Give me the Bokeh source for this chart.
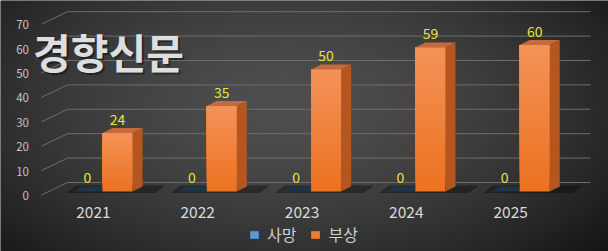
import numpy as np
from bokeh.plotting import figure
from bokeh.models import Range1d, Legend, LegendItem, Label
from bokeh.core.properties import value
from bokeh.embed import file_html
from bokeh.resources import INLINE

# ---------------- data ----------------
years = ["2021", "2022", "2023", "2024", "2025"]
series_names = ["사망", "부상"]
deaths = [0, 0, 0, 0, 0]
injuries = [24, 35, 50, 59, 60]
y_ticks = [0, 10, 20, 30, 40, 50, 60, 70]
watermark = "경향신문"

# ---------------- layout / style constants ----------------
W_PX, H_PX = 608, 251
X_UNIT = 104.3          # px per category
Y_UNIT = 2.44           # px per value unit
X0_PX, Y0_PX = 102, 191  # pixel of (x=0, v=0)
BW = 0.288              # bar width (categories)
DX, DY = 0.096, 2.05    # 3D depth offset
WALL_DY = 3.69          # back wall offset in value units
FRONT_DY = -1.43
WALL_X0, WALL_X1, DIAG_X0 = -0.336, 4.679, -0.585
FONT = "Noto Sans CJK KR"

p = figure(width=W_PX, height=H_PX, output_backend="svg", toolbar_location=None,
           x_axis_type=None, y_axis_type=None, min_border=0,
           x_range=Range1d(-X0_PX / X_UNIT, (W_PX - X0_PX) / X_UNIT),
           y_range=Range1d(-(H_PX - Y0_PX) / Y_UNIT, Y0_PX / Y_UNIT))
p.outline_line_color = None
p.grid.visible = False
p.background_fill_color = "#333333"
p.border_fill_color = "#333333"

# background radial gradient
gh, gw = 120, 240
yy, xx = np.mgrid[0:gh, 0:gw]
xn = xx / (gw - 1)
yn = 1 - yy / (gh - 1)
r = np.sqrt(((xn - 0.47) / 0.62) ** 2 + ((yn - 0.42) / 0.8) ** 2)
r = np.clip(r, 0, 1.2)
val = (78 - 48 * r ** 1.6).clip(20, 90).astype(np.uint8)
img = np.empty((gh, gw), dtype=np.uint32)
view = img.view(dtype=np.uint8).reshape((gh, gw, 4))
view[:, :, 0] = val
view[:, :, 1] = val
view[:, :, 2] = val
view[:, :, 3] = 255
xr, yr = p.x_range, p.y_range
p.image_rgba(image=[img], x=xr.start, y=yr.start, dw=xr.end - xr.start, dh=yr.end - yr.start)

# back wall grid lines with diagonal to front labels
gx = [[DIAG_X0, WALL_X0, WALL_X1] for t in y_ticks]
gy = [[t + FRONT_DY, t + WALL_DY, t + WALL_DY] for t in y_ticks]
p.multi_line(xs=gx, ys=gy, line_color="#6e6e6e", line_width=1)

# y tick labels
p.text(x=[-0.705] * len(y_ticks), y=[t - 1.64 for t in y_ticks], text=[str(t) for t in y_ticks],
       text_align="right", text_baseline="middle", text_font=value(FONT),
       text_font_size="11.5px", text_color="#c4c4c4")

idx = np.arange(len(years))

# floor shadows
sh_xs, sh_ys = [], []
for i in idx:
    sh_xs.append([i - BW - 0.06, i + BW + 0.22, i + BW + 0.22 + DX, i - BW - 0.06 + DX])
    sh_ys.append([-0.6, -0.6, DY + 0.4, DY + 0.4])
p.patches(xs=sh_xs, ys=sh_ys, fill_color="#000000", fill_alpha=0.35, line_color=None)

# 사망 bars (zero height -> flat top face)
b_xs, b_ys = [], []
for i, v in zip(idx, deaths):
    b_xs.append([i - BW, i, i + DX, i - BW + DX])
    b_ys.append([v, v, v + DY, v + DY])
p.patches(xs=b_xs, ys=b_ys, fill_color="#1e3447", line_color=None)

# 부상 bars: front face gradient (stacked overlapping layers, bottom to top)
N = 16
c_bot = np.array([236, 114, 32])
c_top = np.array([244, 146, 88])
ql, qr, qb, qt, qc = [], [], [], [], []
for k in range(N):
    f0 = k / N
    c = (c_bot + (c_top - c_bot) * (k + 0.5) / N).astype(int)
    for i, v in zip(idx, injuries):
        ql.append(i)
        qr.append(i + BW)
        qb.append(v * f0)
        qt.append(v)
        qc.append("#%02x%02x%02x" % tuple(c))
p.quad(left=ql, right=qr, bottom=qb, top=qt, fill_color=qc, line_color=None)

# side and top faces
s_xs, s_ys, t_xs, t_ys = [], [], [], []
for i, v in zip(idx, injuries):
    s_xs.append([i + BW, i + BW + DX, i + BW + DX, i + BW])
    s_ys.append([0, DY, v + DY, v])
    t_xs.append([i, i + DX, i + BW + DX, i + BW])
    t_ys.append([v, v + DY, v + DY, v])
p.patches(xs=s_xs, ys=s_ys, fill_color="#b4561d", line_color=None)
p.patches(xs=t_xs, ys=t_ys, fill_color="#c46a3c", line_color=None)

# value labels
p.text(x=list(idx - BW / 2), y=[v + 5.6 for v in deaths], text=[str(v) for v in deaths],
       text_align="center", text_baseline="middle", text_font=value(FONT),
       text_font_size="14px", text_color="#e6e63a")
p.text(x=list(idx + BW / 2), y=[v + 5.6 for v in injuries], text=[str(v) for v in injuries],
       text_align="center", text_baseline="middle", text_font=value(FONT),
       text_font_size="14px", text_color="#e6e63a")

# category labels
p.text(x=list(idx - 0.087), y=[-8.6] * len(years), text=years,
       text_align="center", text_baseline="middle", text_font=value(FONT),
       text_font_size="15.5px", text_color="#dadada")

# legend (proxy renderers whose single point is NaN, so they draw nothing on the plot)
nan = float("nan")
r1 = p.quad(left=[nan], right=[nan], bottom=[nan], top=[nan], fill_color="#5b9bd5", line_color="#4a8ac4")
r2 = p.quad(left=[nan], right=[nan], bottom=[nan], top=[nan], fill_color="#f07d2e", line_color="#e06d20")
legend = Legend(items=[LegendItem(label=series_names[0], renderers=[r1]),
                       LegendItem(label=series_names[1], renderers=[r2])],
                orientation="horizontal", location=(249, 5),
                background_fill_alpha=0, border_line_alpha=0, padding=0, margin=0,
                glyph_width=10, glyph_height=9, label_standoff=8, spacing=14,
                label_text_font=FONT, label_text_font_size="16px",
                label_text_color="#d0d0d0")
p.add_layout(legend)

# watermark
p.add_layout(Label(x=110, y=199, x_units="screen", y_units="screen", text=watermark,
                   text_align="center", text_baseline="middle", text_font=FONT,
                   text_font_size="41px", text_font_style="bold",
                   text_color="#000000", text_alpha=0.4))
p.add_layout(Label(x=108, y=201, x_units="screen", y_units="screen", text=watermark,
                   text_align="center", text_baseline="middle", text_font=FONT,
                   text_font_size="41px", text_font_style="bold",
                   text_color="#dedede"))

open("out.html", "w").write(file_html(p, INLINE))
